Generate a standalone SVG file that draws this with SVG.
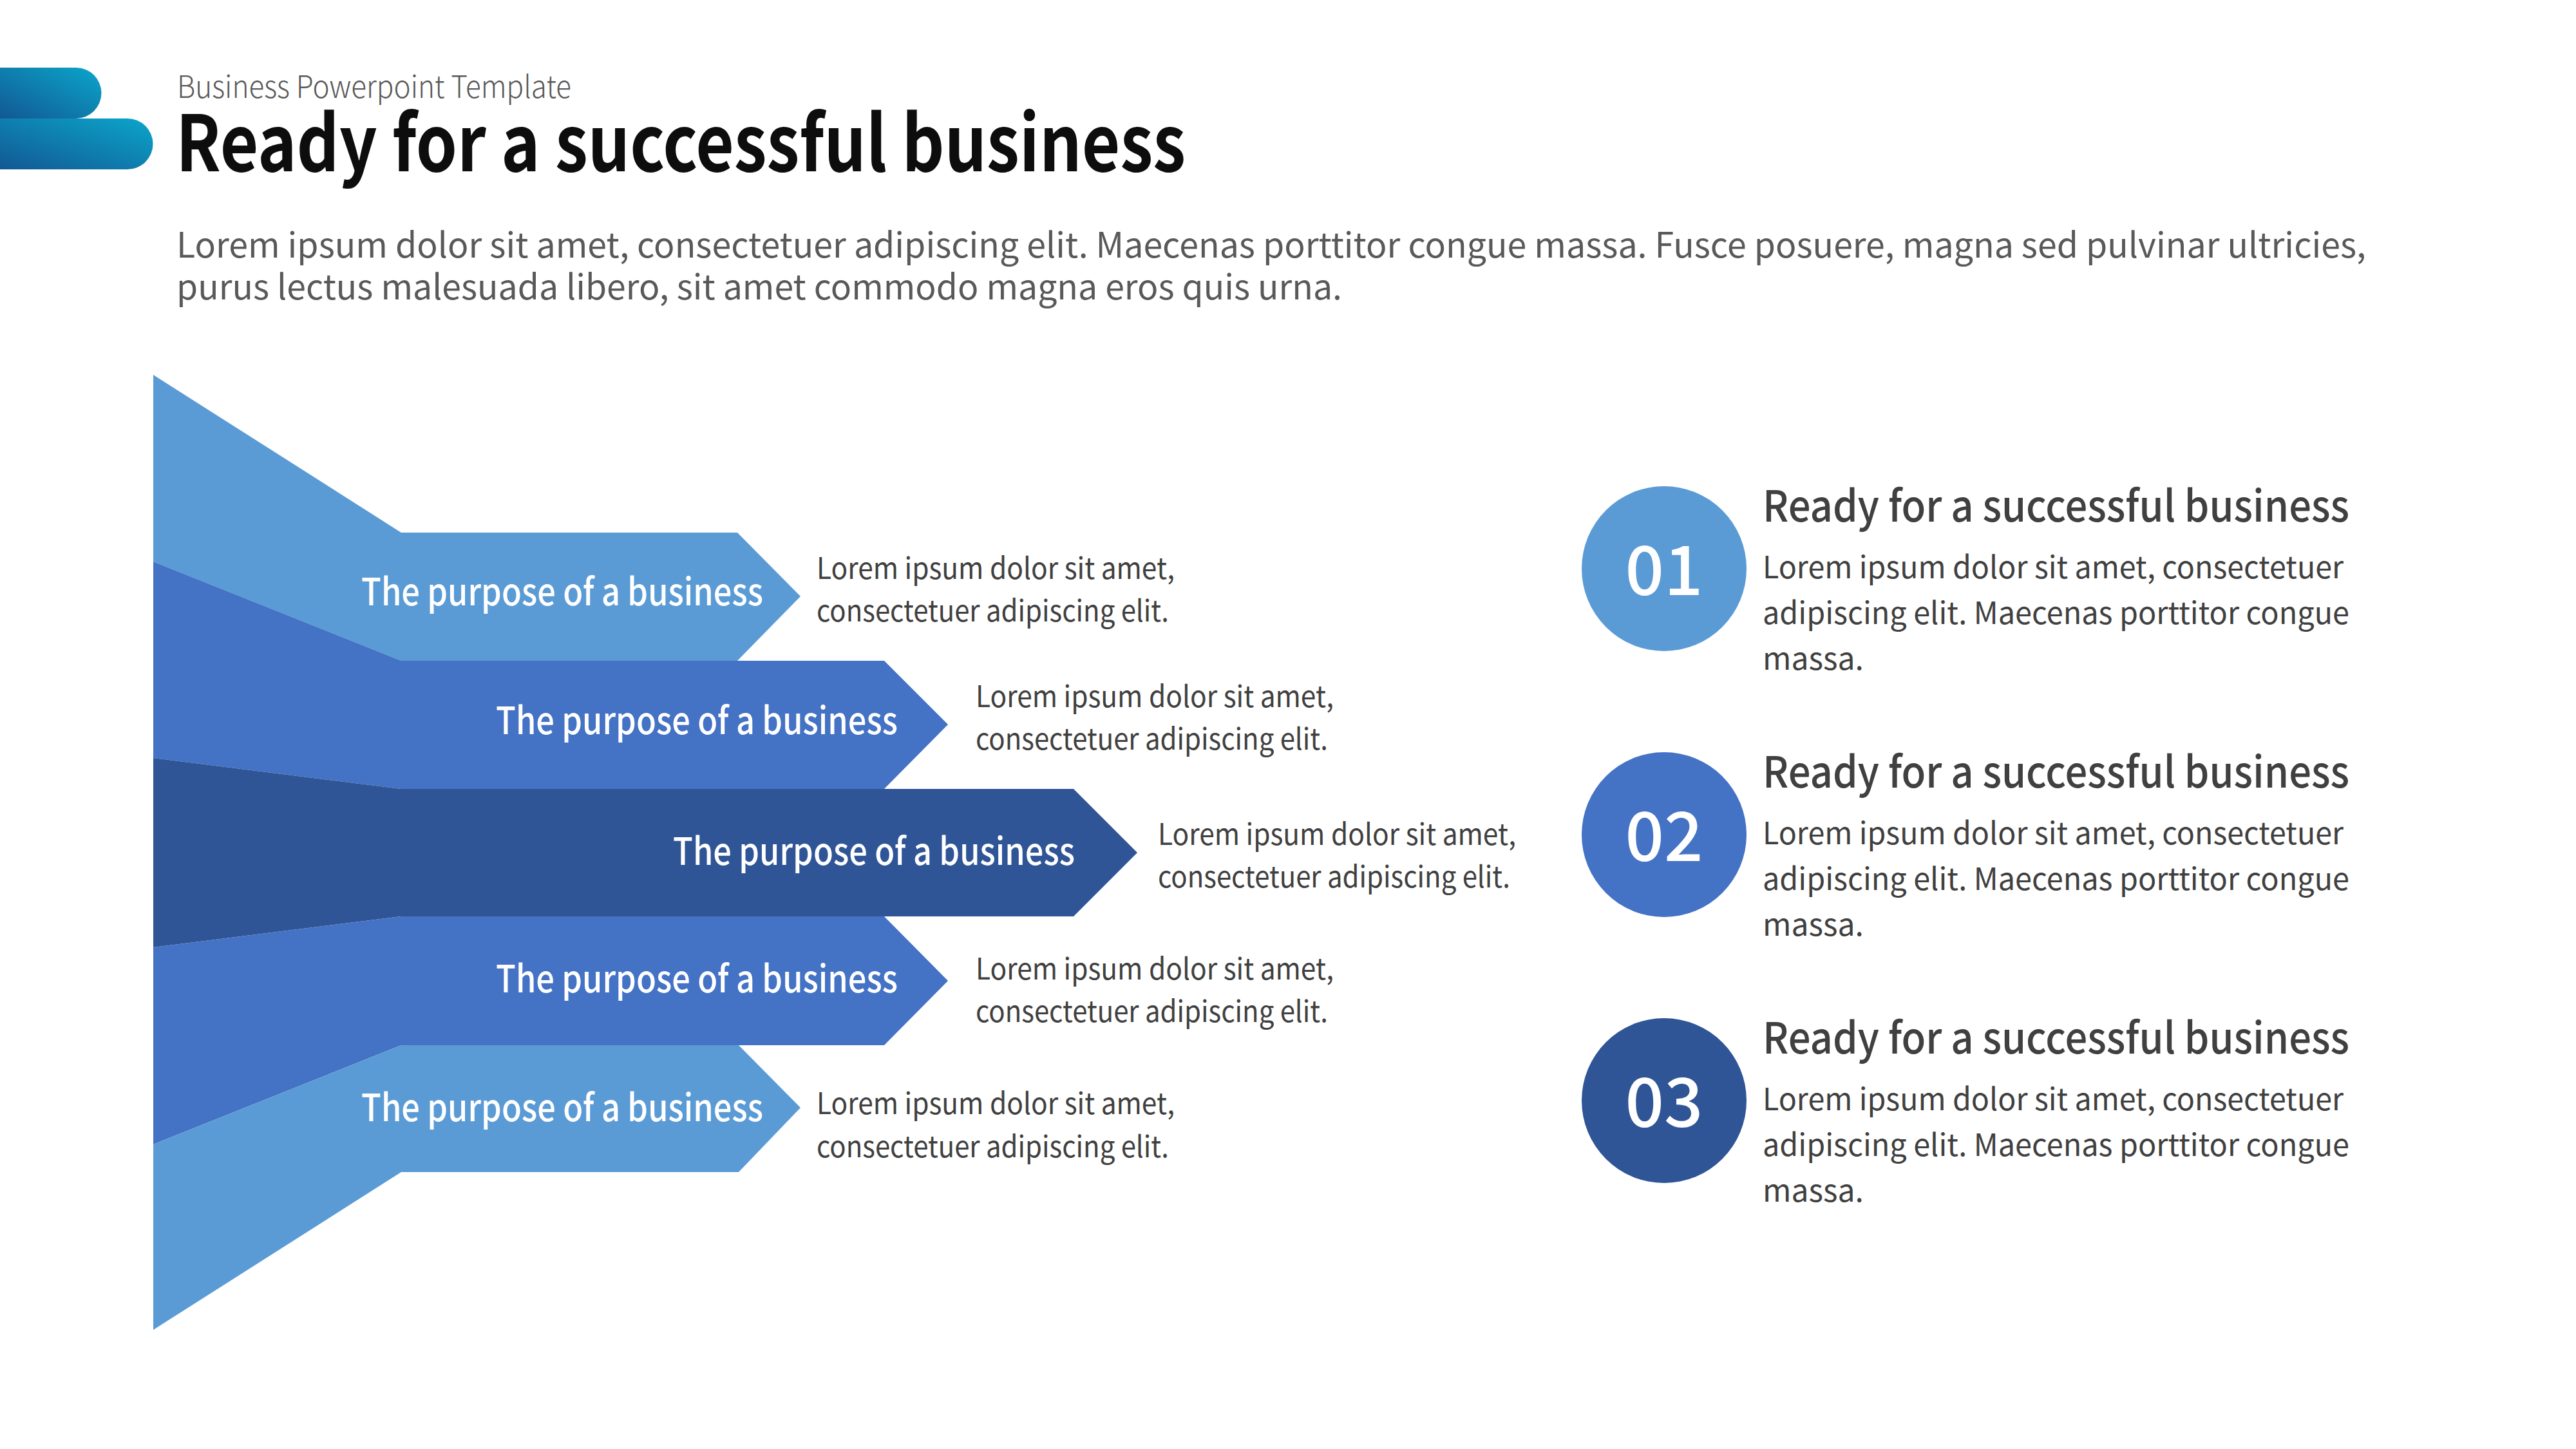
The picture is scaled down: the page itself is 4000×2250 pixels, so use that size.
<svg xmlns="http://www.w3.org/2000/svg" width="4000" height="2250" viewBox="0 0 4000 2250">
<defs>
<linearGradient id="logoGrad" x1="0" y1="1" x2="1" y2="0">
<stop offset="0" stop-color="#125894"/>
<stop offset="1" stop-color="#0BA6CA"/>
</linearGradient>
<style>
text{font-family:"Noto Sans CJK KR","Noto Sans",sans-serif;}
.light{fill:#5B9BD5;}
.mid{fill:#4472C4;}
.dark{fill:#2F5597;}
.lbl{fill:#FFFFFF;font-size:58px;font-weight:500;text-anchor:end;}
.desc{fill:#404040;font-size:46px;font-weight:400;}
.num{fill:#FFFFFF;font-size:106px;font-weight:500;text-anchor:middle;}
.hd{fill:#404040;font-size:67px;font-weight:500;}
.body{fill:#404040;font-size:48px;font-weight:400;}
</style>
</defs>
<rect width="4000" height="2250" fill="#FFFFFF"/>
<g id="header">
<path d="M0,105 H118 A39.5,39.5 0 0 1 118,184 H0 Z" fill="url(#logoGrad)"/>
<path d="M0,184 H198 A39.5,39.5 0 0 1 198,263 H0 Z" fill="url(#logoGrad)"/>
<text x="275" y="152" font-size="48" font-weight="300" fill="#595959" textLength="612" lengthAdjust="spacingAndGlyphs">Business Powerpoint Template</text>
<text x="273" y="266" font-size="120" font-weight="700" fill="#0D0D0D" textLength="1568" lengthAdjust="spacingAndGlyphs">Ready for a successful business</text>
<text x="274" y="400" font-size="54" font-weight="400" fill="#595959" textLength="3400" lengthAdjust="spacingAndGlyphs">Lorem ipsum dolor sit amet, consectetuer adipiscing elit. Maecenas porttitor congue massa. Fusce posuere, magna sed pulvinar ultricies,</text>
<text x="274" y="465" font-size="54" font-weight="400" fill="#595959" textLength="1810" lengthAdjust="spacingAndGlyphs">purus lectus malesuada libero, sit amet commodo magna eros quis urna.</text>
</g>
<g id="funnel">
<g id="band1">
<polygon class="light" points="238,582 623,827 1145,827 1243,926 1145,1026 623,1026 238,872"/>
<text class="lbl" x="1185" y="940" textLength="624" lengthAdjust="spacingAndGlyphs">The purpose of a business</text>
<text class="desc" x="1268" y="899" textLength="556" lengthAdjust="spacingAndGlyphs">Lorem ipsum dolor sit amet,</text>
<text class="desc" x="1268" y="965" textLength="547" lengthAdjust="spacingAndGlyphs">consectetuer adipiscing elit.</text>
</g>
<g id="band2">
<polygon class="mid" points="238,872 623,1026 1373,1026 1472,1125 1373,1225 623,1225 238,1177"/>
<text class="lbl" x="1394" y="1140" textLength="624" lengthAdjust="spacingAndGlyphs">The purpose of a business</text>
<text class="desc" x="1515" y="1098" textLength="556" lengthAdjust="spacingAndGlyphs">Lorem ipsum dolor sit amet,</text>
<text class="desc" x="1515" y="1164" textLength="547" lengthAdjust="spacingAndGlyphs">consectetuer adipiscing elit.</text>
</g>
<g id="band3">
<polygon class="dark" points="238,1177 623,1225 1667,1225 1766,1324 1667,1423 623,1423 238,1471"/>
<text class="lbl" x="1669" y="1343" textLength="624" lengthAdjust="spacingAndGlyphs">The purpose of a business</text>
<text class="desc" x="1798" y="1312" textLength="556" lengthAdjust="spacingAndGlyphs">Lorem ipsum dolor sit amet,</text>
<text class="desc" x="1798" y="1378" textLength="547" lengthAdjust="spacingAndGlyphs">consectetuer adipiscing elit.</text>
</g>
<g id="band4">
<polygon class="mid" points="238,1471 623,1423 1373,1423 1472,1523 1373,1623 623,1623 238,1777"/>
<text class="lbl" x="1394" y="1541" textLength="624" lengthAdjust="spacingAndGlyphs">The purpose of a business</text>
<text class="desc" x="1515" y="1521" textLength="556" lengthAdjust="spacingAndGlyphs">Lorem ipsum dolor sit amet,</text>
<text class="desc" x="1515" y="1587" textLength="547" lengthAdjust="spacingAndGlyphs">consectetuer adipiscing elit.</text>
</g>
<g id="band5">
<polygon class="light" points="238,1777 623,1623 1147,1623 1243,1720 1147,1820 623,1820 238,2065"/>
<text class="lbl" x="1185" y="1741" textLength="624" lengthAdjust="spacingAndGlyphs">The purpose of a business</text>
<text class="desc" x="1268" y="1730" textLength="556" lengthAdjust="spacingAndGlyphs">Lorem ipsum dolor sit amet,</text>
<text class="desc" x="1268" y="1797" textLength="547" lengthAdjust="spacingAndGlyphs">consectetuer adipiscing elit.</text>
</g>
</g>
<g id="item1">
<circle class="light" cx="2584" cy="883" r="128"/>
<text class="num" x="2584" y="924">01</text>
<text class="hd" x="2737" y="810" textLength="911" lengthAdjust="spacingAndGlyphs">Ready for a successful business</text>
<text class="body" x="2737" y="898" textLength="902" lengthAdjust="spacingAndGlyphs">Lorem ipsum dolor sit amet, consectetuer</text>
<text class="body" x="2737" y="969" textLength="911" lengthAdjust="spacingAndGlyphs">adipiscing elit. Maecenas porttitor congue</text>
<text class="body" x="2737" y="1040">massa.</text>
</g>
<g id="item2">
<circle class="mid" cx="2584" cy="1296" r="128"/>
<text class="num" x="2584" y="1337">02</text>
<text class="hd" x="2737" y="1223" textLength="911" lengthAdjust="spacingAndGlyphs">Ready for a successful business</text>
<text class="body" x="2737" y="1311" textLength="902" lengthAdjust="spacingAndGlyphs">Lorem ipsum dolor sit amet, consectetuer</text>
<text class="body" x="2737" y="1382" textLength="911" lengthAdjust="spacingAndGlyphs">adipiscing elit. Maecenas porttitor congue</text>
<text class="body" x="2737" y="1453">massa.</text>
</g>
<g id="item3">
<circle class="dark" cx="2584" cy="1709" r="128"/>
<text class="num" x="2584" y="1750">03</text>
<text class="hd" x="2737" y="1636" textLength="911" lengthAdjust="spacingAndGlyphs">Ready for a successful business</text>
<text class="body" x="2737" y="1724" textLength="902" lengthAdjust="spacingAndGlyphs">Lorem ipsum dolor sit amet, consectetuer</text>
<text class="body" x="2737" y="1795" textLength="911" lengthAdjust="spacingAndGlyphs">adipiscing elit. Maecenas porttitor congue</text>
<text class="body" x="2737" y="1866">massa.</text>
</g>
<g id="connectors"></g>
</svg>
